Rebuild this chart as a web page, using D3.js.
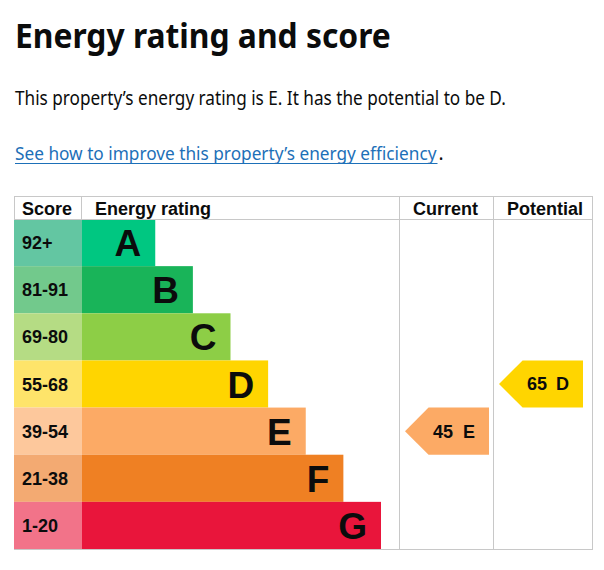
<!DOCTYPE html>
<html>
<head>
<meta charset="utf-8">
<script src="https://cdn.jsdelivr.net/npm/d3@7"></script>
<style>
  body { margin: 0; background: #fff; }
  text { fill: #0b0c0c; }
</style>
</head>
<body>
<div class="epc"></div>
<script>
// energy rating chart (EPC style)

var bands      = ["A", "B", "C", "D", "E", "F", "G"];
var scoreLabel = ["92+", "81-91", "69-80", "55-68", "39-54", "21-38", "1-20"];
var scoreMin   = [92, 81, 69, 55, 39, 21, 1];
var barLength  = [2, 3, 4, 5, 6, 7, 8];
var barColor   = ["#00c781", "#19b459", "#8dce46", "#ffd500", "#fcaa65", "#ef8023", "#e9153b"];
var scoreColor = ["#63c6a2", "#72c98c", "#b5dc84", "#fee46a", "#fdc89c", "#f3aa72", "#f27389"];

var headers = ["Score", "Energy rating", "Current", "Potential"];
var currentScore = 45;
var potentialScore = 65;

var width = 604,
    height = 570;

// table columns: score | rating | current | potential
var cols = [14, 81, 399, 493, 592];
var headerTop = 196, headerBottom = 219, tableBottom = 549;

var svg = d3.select(".epc").append("svg")
    .attr("width", width)
    .attr("height", height)
    .style("font-family", "Arial, 'Liberation Sans', sans-serif");

/* heading texts, narrowed horizontally to the width of the GOV.UK font */
function fitText(sel, x0, y0, w) {
  var len = sel.node().getComputedTextLength();
  sel.attr("transform", "translate(" + x0 + "," + y0 + ") scale(" + (w / len) + ",1)");
  return sel;
}

fitText(svg.append("text")
    .style("font-family", "'Noto Sans', sans-serif")
    .style("font-weight", 700).style("font-size", "34px")
    .text("Energy rating and score"), 15, 47.5, 376);

fitText(svg.append("text")
    .style("font-family", "'Noto Sans', sans-serif")
    .style("font-size", "19px")
    .text("This property\u2019s energy rating is E. It has the potential to be D."), 15, 105, 491);

// link text, then the full stop
fitText(svg.append("text")
    .style("font-family", "'Noto Sans', sans-serif")
    .style("font-size", "19px")
    .style("fill", "#1d70b8")
    .text("See how to improve this property\u2019s energy efficiency"), 15, 160, 422);
svg.append("line")
    .attr("x1", 15).attr("x2", 437.5)
    .attr("y1", 163.5).attr("y2", 163.5)
    .attr("stroke", "#1d70b8").attr("stroke-width", 1);
svg.append("text")
    .attr("x", 438.5).attr("y", 160)
    .style("font-family", "'Noto Sans', sans-serif")
    .style("font-size", "19px")
    .text(".");

/* scales */
var y = d3.scaleBand().domain(bands).range([headerBottom, tableBottom]);
var x = d3.scaleLinear().domain([0, 8]).range([80, 381]);

function bandOf(score) {
  for (var i = 0; i < scoreMin.length; i++) if (score >= scoreMin[i]) return bands[i];
  return bands[bands.length - 1];
}

/* rows */
var rows = svg.append("g").selectAll("g")
    .data(bands)
    .join("g");

rows.append("rect")
    .attr("x", cols[0]).attr("y", function(d) { return y(d); })
    .attr("width", cols[1] + 1 - cols[0]).attr("height", y.bandwidth())
    .attr("fill", function(d, i) { return scoreColor[i]; });

rows.append("rect")
    .attr("x", cols[1] + 1).attr("y", function(d) { return y(d); })
    .attr("width", function(d, i) { return x(barLength[i]) - cols[1] - 1; })
    .attr("height", y.bandwidth())
    .attr("fill", function(d, i) { return barColor[i]; });

rows.append("text")
    .attr("x", 22)
    .attr("y", function(d) { return y(d) + y.bandwidth() / 2 + 6.5; })
    .style("font-weight", 700).style("font-size", "18px")
    .text(function(d, i) { return scoreLabel[i]; });

rows.append("text")
    .attr("x", function(d, i) { return x(barLength[i]) - 14; })
    .attr("y", function(d) { return y(d) + y.bandwidth() / 2 + 13.5; })
    .attr("text-anchor", "end")
    .style("font-weight", 700).style("font-size", "37px")
    .text(function(d) { return d; });

/* grid lines */
var grid = svg.append("g").attr("stroke", "#c8c8c8").attr("stroke-width", 1);
grid.append("line").attr("x1", cols[0]).attr("x2", cols[4])
    .attr("y1", headerTop + 0.5).attr("y2", headerTop + 0.5);
grid.append("line").attr("x1", cols[0]).attr("x2", cols[4])
    .attr("y1", headerBottom + 0.5).attr("y2", headerBottom + 0.5);
grid.append("line").attr("x1", cols[0]).attr("x2", cols[4])
    .attr("y1", tableBottom + 0.5).attr("y2", tableBottom + 0.5);
grid.selectAll(".vh").data([cols[0], cols[1]]).join("line")
    .attr("x1", function(d) { return d + 0.5; }).attr("x2", function(d) { return d + 0.5; })
    .attr("y1", headerTop).attr("y2", headerBottom);
grid.selectAll(".vf").data([cols[2], cols[3], cols[4]]).join("line")
    .attr("x1", function(d) { return d + 0.5; }).attr("x2", function(d) { return d + 0.5; })
    .attr("y1", headerTop).attr("y2", tableBottom + 1);

/* header */
var headerX = [22, 95, 413, 507];
svg.append("g").selectAll("text")
    .data(headers)
    .join("text")
    .attr("x", function(d, i) { return headerX[i]; })
    .attr("y", 215)
    .style("font-weight", 700).style("font-size", "18px")
    .text(function(d) { return d; });

/* arrows for current and potential */
var arrows = [
  {score: currentScore, left: cols[2]},
  {score: potentialScore, left: cols[3]}
];

var arrow = svg.append("g").selectAll("g")
    .data(arrows)
    .join("g")
    .attr("transform", function(d) {
      return "translate(" + (d.left + 6) + "," + y(bandOf(d.score)) + ")";
    });

arrow.append("path")
    .attr("d", function() {
      var h = y.bandwidth(), w = 84;
      return "M0," + h / 2 + "L" + h / 2 + ",0H" + w + "V" + h + "H" + h / 2 + "Z";
    })
    .attr("fill", function(d) { return barColor[bands.indexOf(bandOf(d.score))]; });

arrow.append("text")
    .attr("x", 28)
    .attr("y", y.bandwidth() / 2 + 6.5)
    .style("font-weight", 700).style("font-size", "18px")
    .text(function(d) { return d.score; });

arrow.append("text")
    .attr("x", 70)
    .attr("y", y.bandwidth() / 2 + 6.5)
    .attr("text-anchor", "end")
    .style("font-weight", 700).style("font-size", "18px")
    .text(function(d) { return bandOf(d.score); });
</script>
</body>
</html>
